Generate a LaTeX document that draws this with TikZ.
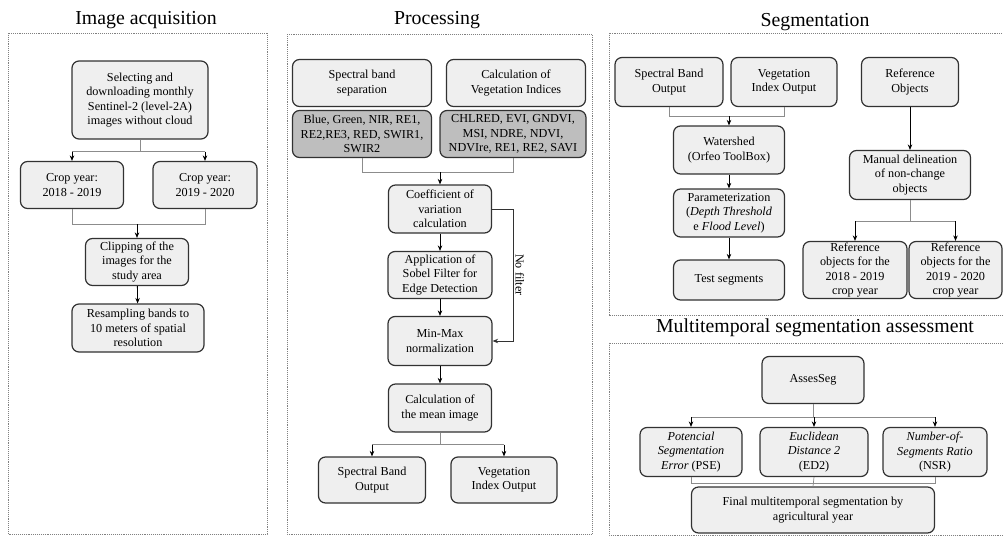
\documentclass[tikz,border=0pt]{standalone}
\usepackage{fontspec}
\setmainfont{Liberation Serif}
\usetikzlibrary{arrows.meta, positioning}

\definecolor{boxfill}{RGB}{239,239,239}
\definecolor{darkfill}{RGB}{190,190,190}
\definecolor{boxline}{RGB}{50,50,50}
\definecolor{joinline}{RGB}{140,140,140}

\begin{document}
\begin{tikzpicture}[
		x = 1pt, y = -1pt, % pixel grid of the page
		> = {Stealth[length=5.5pt, width=4.5pt]}, % arrow head style
		semithick % line style
		]
		
		\tikzstyle{every node}=[font=\fontsize{12.2}{14.3}\selectfont]
		\tikzstyle{proc}=[
		draw = boxline,
		line width = 1.2pt,
		fill = boxfill,
		rounded corners = 7pt,
		align = center,
		inner sep = 1pt
		]
		\tikzstyle{listbox}=[proc, fill = darkfill]
		\tikzstyle{panel}=[draw = gray, densely dotted, line width = 0.9pt]
		\tikzstyle{title}=[font=\fontsize{19.8}{23}\selectfont]
		\tikzstyle{link}=[draw = joinline, line width = 0.7pt]
		\tikzstyle{arr}=[->, draw = black, line width = 0.8pt]
		
		\useasboundingbox (0,0) rectangle (1003,538);
		
		% frames and titles
		\draw[panel] (8,33) rectangle (267,534);
		\draw[panel] (287,34) rectangle (592,534);
		\draw[panel] (609,33) rectangle (1008,315);
		\draw[panel] (609,343) rectangle (1008,535);
		\node[title] (t1) at (146,20) {Image acquisition};
		\node[title] (t2) at (437,20) {Processing};
		\node[title] (t3) at (815,22) {Segmentation};
		\node[title] (t4) at (815,328) {Multitemporal segmentation assessment};
		
		% image acquisition
		\node[proc, minimum width=136, minimum height=78] (sel) at (140,100) {Selecting and\\downloading monthly\\Sentinel-2 (level-2A)\\images without cloud};
		\node[proc, minimum width=103, minimum height=47] (crop1) at (72,185) {Crop year:\\2018 - 2019};
		\node[proc, minimum width=104, minimum height=47] (crop2) at (205,185) {Crop year:\\2019 - 2020};
		\node[proc, minimum width=103, minimum height=47] (clip) at (137,262) {Clipping of the\\images for the\\study area};
		\node[proc, minimum width=132, minimum height=48] (resamp) at (138,328) {Resampling bands to\\10 meters of spatial\\resolution};
		
		\draw[link] (sel.south) -- ++(0,12) coordinate (j1);
		\draw[link] (j1 -| crop1.north) -- (j1 -| crop2.north);
		\draw[arr] (j1 -| crop1.north) -- (crop1.north);
		\draw[arr] (j1 -| crop2.north) -- (crop2.north);
		\draw[link] (crop1.south) -- ++(0,15) coordinate (j2) -| (crop2.south);
		\draw[arr] (j2 -| clip.north) -- (clip.north);
		\draw[arr] (clip) -- (resamp);
		
		% processing
		\node[proc, minimum width=139, minimum height=47] (sbs) at (362,83) {Spectral band\\separation};
		\node[proc, minimum width=139, minimum height=47] (cvi) at (516,83) {Calculation of\\Vegetation Indices};
		\node[listbox, minimum width=139, minimum height=47] (bands) at (362,134) {Blue, Green, NIR, RE1,\\RE2,RE3, RED, SWIR1,\\SWIR2};
		\node[listbox, minimum width=146, minimum height=47] (vis) at (513,134) {CHLRED, EVI, GNDVI,\\MSI, NDRE, NDVI,\\NDVIre, RE1, RE2, SAVI};
		\node[proc, minimum width=103, minimum height=48] (cv) at (440,209) {Coefficient of\\variation\\calculation};
		\node[proc, minimum width=104, minimum height=47] (sobel) at (440,275) {Application of\\Sobel Filter for\\Edge Detection};
		\node[proc, minimum width=104, minimum height=49] (minmax) at (440,341) {Min-Max\\normalization};
		\node[proc, minimum width=103, minimum height=48] (mean) at (440,408) {Calculation of\\the mean image};
		\node[proc, minimum width=107, minimum height=46] (sbout) at (372,480) {Spectral Band\\Output};
		\node[proc, minimum width=106, minimum height=46] (viout) at (504,480) {Vegetation\\Index Output};
		
		\draw[link] (bands.south) -- ++(0,14) coordinate (j3) -| (vis.south);
		\draw[arr] (j3 -| cv.north) -- (cv.north);
		\draw[arr] (cv) -- (sobel);
		\draw[arr] (sobel) -- (minmax);
		\draw[arr] (minmax) -- (mean);
		\draw[->, draw = boxline, line width = 1pt] (cv.east) -- ++(21,0) |- (minmax.east)
		node[pos=0.25, rotate=-90, anchor=south, inner sep=2pt] {No filter};
		\draw[link] (mean.south) -- ++(0,12) coordinate (j4);
		\draw[link] (j4 -| sbout.north) -- (j4 -| viout.north);
		\draw[arr] (j4 -| sbout.north) -- (sbout.north);
		\draw[arr] (j4 -| viout.north) -- (viout.north);
		
		% segmentation
		\node[proc, minimum width=108, minimum height=49] (sbo2) at (669,82) {Spectral Band\\Output};
		\node[proc, minimum width=106, minimum height=49] (vio2) at (784,82) {Vegetation\\Index Output};
		\node[proc, minimum width=97, minimum height=49] (refo) at (910,82) {Reference\\Objects};
		\node[proc, minimum width=111, minimum height=48] (water) at (729,150) {Watershed\\(Orfeo ToolBox)};
		\node[proc, minimum width=111, minimum height=48] (param) at (729,213) {Parameterization\\(\textit{Depth Threshold}\\e \textit{Flood Level})};
		\node[proc, minimum width=111, minimum height=40] (test) at (729,280) {Test segments};
		\node[proc, minimum width=121, minimum height=49] (manual) at (910,175) {Manual delineation\\of non-change\\objects};
		\node[proc, minimum width=104, minimum height=57] (ref1) at (855,270) {Reference\\objects for the\\2018 - 2019\\crop year};
		\node[proc, minimum width=93, minimum height=57] (ref2) at (955.5,270) {Reference\\objects for the\\2019 - 2020\\crop year};
		
		\draw[link] (sbo2.south) -- ++(0,9) coordinate (j5) -| (vio2.south);
		\draw[arr] (j5 -| water.north) -- (water.north);
		\draw[arr] (water) -- (param);
		\draw[arr] (param) -- (test);
		\draw[arr] (refo) -- (manual);
		\draw[link] (manual.south) -- ++(0,21) coordinate (j6);
		\draw[link] (j6 -| ref1.north) -- (j6 -| ref2.north);
		\draw[arr] (j6 -| ref1.north) -- (ref1.north);
		\draw[arr] (j6 -| ref2.north) -- (ref2.north);
		
		% assessment
		\node[proc, minimum width=102, minimum height=47] (asses) at (813,380) {AssesSeg};
		\node[proc, minimum width=102, minimum height=49] (pse) at (691,452) {\textit{Potencial}\\\textit{Segmentation}\\\textit{Error} (PSE)};
		\node[proc, minimum width=108, minimum height=49] (ed2) at (814,452) {\textit{Euclidean}\\\textit{Distance 2}\\(ED2)};
		\node[proc, minimum width=104, minimum height=49] (nsr) at (935,452) {\textit{Number-of-}\\\textit{Segments Ratio}\\(NSR)};
		\node[proc, minimum width=243, minimum height=46] (final) at (813,510) {Final multitemporal segmentation by\\agricultural year};
		
		\draw[link] (asses.south) -- ++(0,13) coordinate (j7);
		\draw[link] (j7 -| pse.north) -- (j7 -| nsr.north);
		\draw[arr] (j7 -| pse.north) -- (pse.north);
		\draw[arr] (j7 -| ed2.north) -- (ed2.north);
		\draw[arr] (j7 -| nsr.north) -- (nsr.north);
		\draw[link] (pse.south) -- ++(0,6) -| (nsr.south);
		\draw[link] (ed2.south) -- (final.north);
		
		\end{tikzpicture}
\end{document}
